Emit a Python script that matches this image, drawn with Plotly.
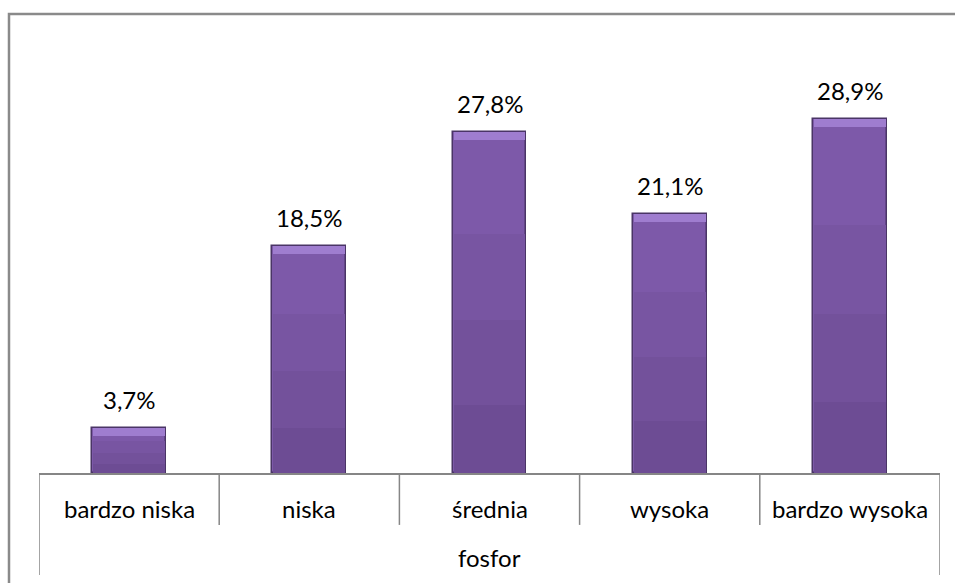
import plotly.graph_objects as go

categories = ["bardzo niska", "niska", "średnia", "wysoka", "bardzo wysoka"]
values = [3.7, 18.5, 27.8, 21.1, 28.9]
group_label = "fosfor"

FONT = "Lato"
FS = 24
BAR_W = 0.41
BEVEL = 0.65  # height of the light top strip, in axis units

fig = go.Figure()

# main bar body with dark rim
fig.add_trace(go.Bar(
    x=categories, y=values, width=BAR_W,
    marker=dict(color="#7d59a9", line=dict(color="#4a3566", width=1.5)),
    hoverinfo="skip", showlegend=False,
))
# gradually darker lower parts of the body
for frac, col in [(0.7, "#7855a2"), (0.45, "#73519b"), (0.2, "#6d4c94")]:
    fig.add_trace(go.Bar(
        x=categories, y=[v * frac for v in values], width=BAR_W - 0.012,
        marker=dict(color=col, line=dict(width=0)),
        hoverinfo="skip", showlegend=False,
    ))
# light bevel along the top edge
fig.add_trace(go.Bar(
    x=categories, y=[BEVEL] * len(values),
    base=[v - BEVEL for v in values], width=BAR_W - 0.012,
    marker=dict(color="#9f7dcf", line=dict(width=0)),
    hoverinfo="skip", showlegend=False,
))

annotations = []
for c, v in zip(categories, values):
    annotations.append(dict(
        x=c, y=v, xref="x", yref="y", text=f"{v:.1f}".replace(".", ",") + "%",
        showarrow=False, yanchor="bottom", yshift=12,
        font=dict(family=FONT, size=FS, color="#000000"),
    ))
    annotations.append(dict(
        x=c, y=-0.082, xref="x", yref="paper", text=c,
        showarrow=False, yanchor="middle",
        font=dict(family=FONT, size=FS, color="#000000"),
    ))
annotations.append(dict(
    x=0.5, y=-0.198, xref="paper", yref="paper", text=group_label,
    showarrow=False, yanchor="middle",
    font=dict(family=FONT, size=FS, color="#000000"),
))

shapes = []
n = len(categories)
for i in range(n + 1):
    outer = i in (0, n)
    shapes.append(dict(
        type="line", xref="x", yref="paper",
        x0=i - 0.5, x1=i - 0.5, y0=0, y1=-0.238 if outer else -0.121,
        line=dict(color="#868686", width=1.5),
    ))
# outer chart frame
shapes.append(dict(
    type="rect", xref="paper", yref="paper",
    x0=-0.0333, x1=1.2, y0=1.07, y1=-0.4,
    line=dict(color="#8a8a8a", width=2.5), fillcolor="rgba(0,0,0,0)",
))

fig.update_layout(
    width=955, height=583,
    margin=dict(l=39, r=15, t=44, b=110),
    paper_bgcolor="white", plot_bgcolor="white",
    barmode="overlay", bargap=0,
    annotations=annotations, shapes=shapes,
    xaxis=dict(type="category", range=[-0.5, n - 0.5], showticklabels=False,
               showline=True, linecolor="#868686", linewidth=1.5,
               showgrid=False, zeroline=False, ticks=""),
    yaxis=dict(range=[0, 35], visible=False, showgrid=False, zeroline=False),
)

fig.write_html("out.html")
